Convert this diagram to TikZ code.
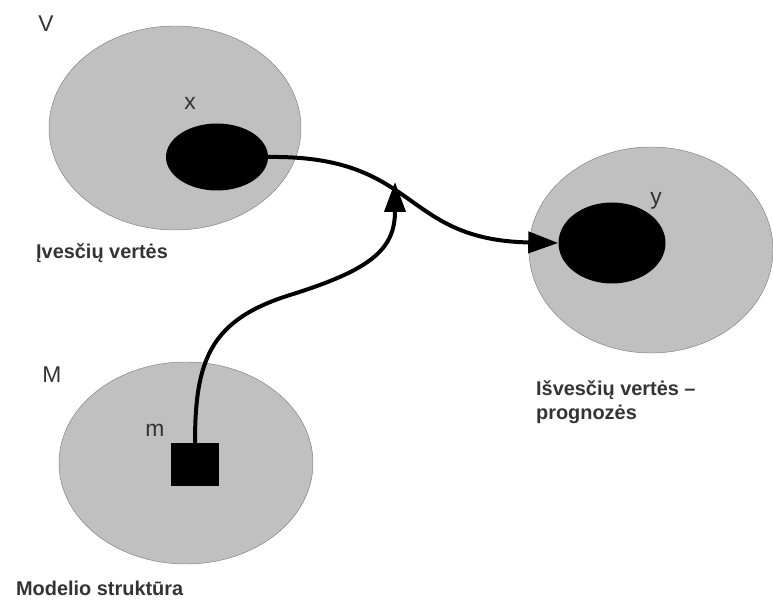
\documentclass[tikz,border=0pt]{standalone}
\usepackage{fontspec}
\setmainfont{Liberation Sans}
\usepackage{tikz}
\usepackage{xcolor}
\usetikzlibrary{shapes.geometric,arrows.meta}
\definecolor{setfill}{RGB}{192,192,192}
\definecolor{setline}{RGB}{128,128,128}
\definecolor{labeltext}{RGB}{51,51,51}
\tikzset{
    set-area/.style = {ellipse, draw=setline, fill=setfill, thin, inner sep=0pt},
    element/.style = {fill=black, inner sep=0pt},
    set-label/.style = {text=labeltext, anchor=base, font=\fontsize{19.5}{23}\selectfont},
    caption-text/.style = {text=labeltext, anchor=west, align=left, font=\fontsize{17}{20.5}\selectfont\bfseries},
    flow-arrow/.style = {line width=0.12cm, -{Triangle[length=0.9cm,width=0.63cm]}},
}

\begin{document}
\begin{tikzpicture}[x=0.03cm, y=-0.03cm]
\useasboundingbox (0,0) rectangle (773,601);
% sets
\node [set-area, minimum width=7.56cm, minimum height=6.12cm] (setV) at (175,128) {};
\node [set-area, minimum width=7.32cm, minimum height=6.18cm] (setY) at (651,250) {};
\node [set-area, minimum width=7.62cm, minimum height=6.06cm] (setM) at (186,463) {};
% elements
\node [element, ellipse, minimum width=3.06cm, minimum height=2.01cm] (elemX) at (217,157) {};
\node [element, ellipse, minimum width=3.21cm, minimum height=2.43cm] (elemY) at (612,243) {};
\node [element, rectangle, minimum width=1.44cm, minimum height=1.29cm] (elemM) at (195,465) {};
% labels
\node [set-label] (labV) at (46,32) {V};
\node [set-label] (labX) at (190,110) {x};
\node [set-label] (labY) at (656,205) {y};
\node [set-label] (labM) at (52,383) {M};
\node [set-label] (labm) at (155,437) {m};
\node [caption-text] (capV) at (32,253) {Įvesčių vertės};
\node [caption-text, anchor=north west] (capY) at (532,376) {Išvesčių vertės –\\prognozės};
\node [caption-text] (capM) at (12,588) {Modelio struktūra};
% arrows
\coordinate (join) at (395,182);
\draw [flow-arrow] (elemX.east) .. controls (420,155) and (400,240) .. (elemY.west);
\draw [flow-arrow] (elemM.north) .. controls (195,360) and (210,320) .. (290,295)
    .. controls (370,270) and (395,250) .. (join);
\end{tikzpicture}
\end{document}
